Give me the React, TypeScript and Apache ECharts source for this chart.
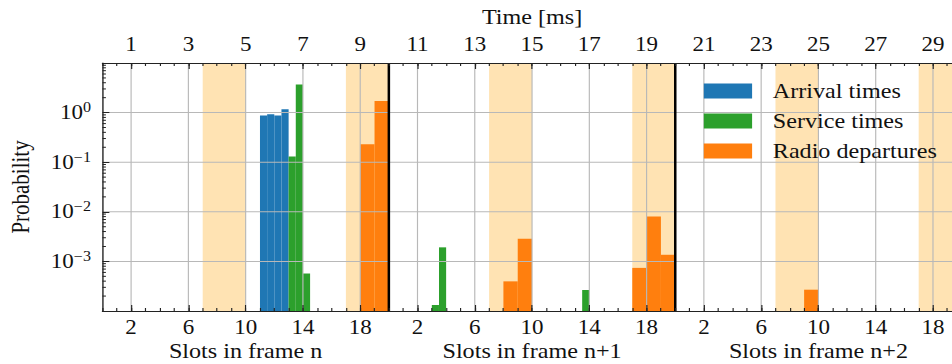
import React, { useEffect, useRef } from 'react';
import * as echarts from 'echarts';

// ---- data (slots are counted continuously over three frames of 20 slots) ----
const SLOT_TICKS = [2, 6, 10, 14, 18, 22, 26, 30, 34, 38, 42, 46, 50, 54, 58];
const FRAME_NAME_SLOTS = [10, 30, 50];
const FRAME_NAMES = ['Slots in frame n', 'Slots in frame n+1', 'Slots in frame n+2'];
const FRAME_BOUNDARIES = [20, 40, 60];
const SHADED = [[7, 10], [17, 20], [27, 30], [37, 40], [47, 50], [57, 60]];
const Y_DECADES = [1, 0.1, 0.01, 0.001];
const Y_MINOR_MANTISSAS = [2, 3, 4, 5, 6, 7, 8, 9];
const Y_MINOR_DECADES = [1e-4, 1e-3, 1e-2, 1e-1, 1];

// [bin start slot, bin end slot, probability]
const ARRIVAL = [
  [11, 11.5, 0.87],
  [11.5, 12, 0.93],
  [12, 12.5, 0.87],
  [12.5, 13, 1.17],
];
const SERVICE = [
  [13, 13.5, 0.13],
  [13.5, 14, 3.7],
  [14, 14.5, 5.7e-4],
  [23, 23.5, 1.32e-4],
  [23.5, 24, 1.92e-3],
  [33.5, 34, 2.65e-4],
];
const RADIO = [
  [18, 19, 0.23],
  [19, 20, 1.72],
  [28, 29, 3.96e-4],
  [29, 30, 2.87e-3],
  [37, 38, 7.4e-4],
  [38, 39, 8.07e-3],
  [39, 40, 1.36e-3],
  [49, 50, 2.69e-4],
];

const X_MIN = 0;
const X_MAX = 60;
const Y_MIN = 1e-4;
const Y_MAX = 10;

const SX = 1.15;
const CHART_W = 860;
const CHART_H = 364;
const FONT = 'Liberation Serif';
const C_BLUE = '#1f77b4';
const C_GREEN = '#2ca02c';
const C_ORANGE = '#ff7f0e';
const C_SHADE = '#ffe3b3';
const C_GRID = '#b8b8b8';
const C_TEXT = '#111';

const barSeries = (name: string, data: number[][], color: string) => ({
  type: 'custom',
  name,
  data,
  z: 2,
  encode: { x: [0, 1], y: 2 },
  itemStyle: { color },
  renderItem: (params: any, api: any) => {
    const a = api.coord([api.value(0), api.value(2)]);
    const b = api.coord([api.value(1), Y_MIN]);
    return {
      type: 'rect',
      shape: { x: a[0], y: a[1], width: b[0] - a[0], height: b[1] - a[1] },
      style: { fill: color },
    };
  },
});

export default function App() {
  const ref = useRef<HTMLDivElement>(null);
  useEffect(() => {
    const chart = echarts.init(ref.current!, null, { renderer: 'svg' });
    const yMinor: number[][] = [];
    Y_MINOR_DECADES.forEach((d) =>
      Y_MINOR_MANTISSAS.forEach((m) => {
        if (m * d < Y_MAX) yMinor.push([X_MIN, m * d]);
      })
    );
    const axisLineStyle = { color: '#222', width: 1.2 };
    const option: any = {
      animation: false,
      backgroundColor: '#fff',
      textStyle: { fontFamily: FONT },
      grid: { left: 89.1, top: 63, width: 747.1, height: 248, containLabel: false },
      legend: {
        data: ['Arrival times', 'Service times', 'Radio departures'],
        orient: 'vertical',
        left: 612,
        top: 80,
        icon: 'rect',
        itemWidth: 42,
        itemHeight: 15,
        itemGap: 8,
        padding: 0,
        textStyle: { fontFamily: FONT, fontSize: 21, color: C_TEXT, lineHeight: 22, padding: [0, 0, 0, 13] },
      },
      xAxis: [
        {
          type: 'value', position: 'bottom', min: X_MIN, max: X_MAX, z: 10,
          axisLine: { show: true, onZero: false, lineStyle: axisLineStyle },
          axisTick: { show: true, inside: true, length: 6, customValues: SLOT_TICKS, lineStyle: { color: '#222' } },
          axisLabel: {
            show: true, margin: 9, customValues: SLOT_TICKS, fontFamily: FONT, fontSize: 20, lineHeight: 16, color: C_TEXT,
            formatter: (v: number) => String(Math.round(v) % 20),
          },
          splitLine: { show: false },
        },
        {
          type: 'value', position: 'bottom', min: X_MIN, max: X_MAX, interval: 1, z: 10,
          axisLine: { show: false, onZero: false },
          axisTick: { show: true, inside: true, length: 3, lineStyle: { color: '#222' } },
          axisLabel: { show: false },
          splitLine: { show: false },
        },
        {
          type: 'value', position: 'bottom', min: X_MIN, max: X_MAX, z: 10,
          axisLine: { show: false, onZero: false },
          axisTick: { show: false },
          axisLabel: {
            show: true, margin: 30, customValues: FRAME_NAME_SLOTS, fontFamily: FONT, fontSize: 21, lineHeight: 20, color: C_TEXT,
            formatter: (v: number) => FRAME_NAMES[FRAME_NAME_SLOTS.indexOf(Math.round(v))] || '',
          },
          splitLine: { show: false },
        },
        {
          type: 'value', position: 'top', min: X_MIN, max: X_MAX, z: 10,
          name: 'Time [ms]', nameLocation: 'middle', nameGap: 36,
          nameTextStyle: { fontFamily: FONT, fontSize: 21, lineHeight: 20, color: C_TEXT },
          axisLine: { show: true, onZero: false, lineStyle: axisLineStyle },
          axisTick: { show: true, inside: true, length: 6, customValues: SLOT_TICKS, lineStyle: { color: '#222' } },
          axisLabel: {
            show: true, margin: 11, customValues: SLOT_TICKS, fontFamily: FONT, fontSize: 20, lineHeight: 16, color: C_TEXT,
            formatter: (v: number) => String(Math.round(v) / 2),
          },
          splitLine: { show: false },
        },
        {
          type: 'value', position: 'top', min: X_MIN, max: X_MAX, interval: 1, z: 10,
          axisLine: { show: false, onZero: false },
          axisTick: { show: true, inside: true, length: 3, lineStyle: { color: '#222' } },
          axisLabel: { show: false },
          splitLine: { show: false },
        },
      ],
      yAxis: {
        type: 'log', logBase: 10, min: Y_MIN, max: Y_MAX, splitNumber: 5, z: 10,
        name: 'Probability', nameLocation: 'middle', nameGap: 60,
        nameTextStyle: { fontFamily: FONT, fontSize: 21, color: C_TEXT },
        axisLine: { show: true, onZero: false, lineStyle: axisLineStyle },
        axisTick: { show: true, inside: true, length: 6, lineStyle: { color: '#222' } },
        splitLine: { show: false },
        axisLabel: {
          margin: 10,
          align: 'right',
          color: C_TEXT,
          formatter: (v: number) => {
            const e = Math.round(Math.log10(v));
            if (e >= 1 || e <= -4) return '';
            return `{b|10}{s|${e < 0 ? '\u2212' + -e : e}}`;
          },
          rich: {
            b: { fontFamily: FONT, fontSize: 20, color: C_TEXT, lineHeight: 24 },
            s: { fontFamily: FONT, fontSize: 14, color: C_TEXT, verticalAlign: 'top', lineHeight: 24 },
          },
        },
      },
      series: [
        {
          type: 'custom', name: 'shade', z: 1, silent: true,
          data: SHADED,
          encode: { x: [0, 1] },
          renderItem: (params: any, api: any) => {
            const a = api.coord([api.value(0), Y_MAX]);
            const b = api.coord([api.value(1), Y_MIN]);
            return { type: 'rect', shape: { x: a[0], y: a[1], width: b[0] - a[0], height: b[1] - a[1] }, style: { fill: C_SHADE } };
          },
        },
        barSeries('Arrival times', ARRIVAL, C_BLUE),
        barSeries('Service times', SERVICE, C_GREEN),
        barSeries('Radio departures', RADIO, C_ORANGE),
        {
          type: 'custom', name: 'hgrid', z: 3, silent: true,
          data: Y_DECADES.map((v) => [X_MIN, v]),
          encode: { x: 0, y: 1 },
          renderItem: (params: any, api: any) => {
            const p = api.coord([X_MIN, api.value(1)]);
            const q = api.coord([X_MAX, api.value(1)]);
            return { type: 'line', shape: { x1: p[0], y1: p[1], x2: q[0], y2: q[1] }, style: { stroke: C_GRID, lineWidth: 1 } };
          },
        },
        {
          type: 'custom', name: 'vgrid', z: 3, silent: true,
          data: SLOT_TICKS.map((v) => [v, Y_MIN]),
          encode: { x: 0, y: 1 },
          renderItem: (params: any, api: any) => {
            const p = api.coord([api.value(0), Y_MIN]);
            const q = api.coord([api.value(0), Y_MAX]);
            return { type: 'line', shape: { x1: p[0], y1: p[1], x2: q[0], y2: q[1] }, style: { stroke: C_GRID, lineWidth: 1 } };
          },
        },
        {
          type: 'custom', name: 'frames', z: 4, silent: true,
          data: FRAME_BOUNDARIES.map((v) => [v, Y_MIN]),
          encode: { x: 0, y: 1 },
          renderItem: (params: any, api: any) => {
            const p = api.coord([api.value(0), Y_MIN]);
            const q = api.coord([api.value(0), Y_MAX]);
            return { type: 'line', shape: { x1: p[0], y1: p[1], x2: q[0], y2: q[1] }, style: { stroke: '#000', lineWidth: 2.2 } };
          },
        },
        {
          type: 'custom', name: 'yminor', z: 10, silent: true,
          data: yMinor,
          encode: { x: 0, y: 1 },
          renderItem: (params: any, api: any) => {
            const p = api.coord([X_MIN, api.value(1)]);
            return { type: 'line', shape: { x1: p[0], y1: p[1], x2: p[0] + 3, y2: p[1] }, style: { stroke: '#222', lineWidth: 1 } };
          },
        },
      ],
    };
    chart.setOption(option);
    return () => chart.dispose();
  }, []);
  return (
    <div style={{ position: 'fixed', left: 0, top: 0, width: 952, height: 364, overflow: 'hidden', background: '#fff' }}>
      <div ref={ref} style={{ width: CHART_W, height: CHART_H, transform: `scaleX(${SX})`, transformOrigin: '0 0' }} />
    </div>
  );
}
